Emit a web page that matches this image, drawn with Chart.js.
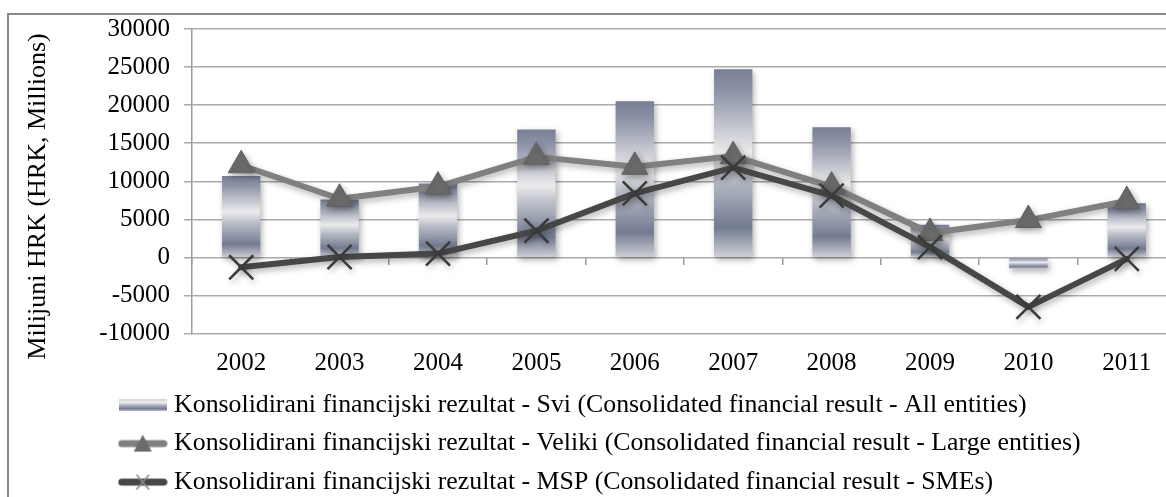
<!DOCTYPE html>
<html>
<head>
<meta charset="utf-8">
<script src="https://cdn.jsdelivr.net/npm/chart.js@4.4.1/dist/chart.umd.min.js"></script>
<style>
  html, body { margin: 0; padding: 0; background: #ffffff; overflow: hidden; width: 1166px; height: 497px; }
  #frame { position: absolute; left: 7px; top: 13px; width: 1400px; height: 700px; border: 2px solid #8a8a8a; box-sizing: border-box; }
  #wrap { position: absolute; left: 0; top: 0; width: 1200px; height: 505px; }
  canvas { position: absolute; left: 0; top: 0; }
</style>
</head>
<body>
<div id="frame"></div>
<div id="wrap"><canvas id="c" width="1200" height="505"></canvas></div>
<script>
// ---- data ----
const categories = ['2002', '2003', '2004', '2005', '2006', '2007', '2008', '2009', '2010', '2011'];
const sviValues = [10700, 7600, 9700, 16800, 20500, 24700, 17100, 4300, -1500, 7100];
const velikiValues = [12100, 7700, 9300, 13200, 11900, 13300, 9300, 3200, 4900, 7400];
const mspValues = [-1300, 50, 500, 3500, 8400, 11800, 8100, 1350, -6500, -200];
const yTickValues = [-10000, -5000, 0, 5000, 10000, 15000, 20000, 25000, 30000];
const seriesLabels = [
  'Konsolidirani financijski rezultat - Svi (Consolidated financial result - All entities)',
  'Konsolidirani financijski rezultat - Veliki (Consolidated financial result - Large entities)',
  'Konsolidirani financijski rezultat - MSP (Consolidated financial result - SMEs)'
];
const yAxisTitle = 'Milijuni HRK (HRK, Millions)';

// ---- styles ----
const FONT_FAMILY = "'Liberation Serif', 'Times New Roman', serif";
const tickFont = { family: FONT_FAMILY, size: 25 };
const legendFont = { family: FONT_FAMILY, size: 25.8 };
const TITLE_SIZE = 26;
const VELIKI_LINE = '#808080';
const VELIKI_MARK = '#6b6b6b';
const MSP_LINE = '#474747';
const MSP_MARK = '#3a3a3a';

function barGradient(c, top, bottom) {
  const g = c.createLinearGradient(0, top, 0, bottom);
  g.addColorStop(0, '#787f95');
  g.addColorStop(0.12, '#8e94a7');
  g.addColorStop(0.44, '#ebebec');
  g.addColorStop(0.58, '#b9bdc8');
  g.addColorStop(0.84, '#737b91');
  g.addColorStop(1, '#cfd1d8');
  return g;
}

// legend symbols
function makeLegendBar() {
  const cv = document.createElement('canvas');
  cv.width = 48; cv.height = 12;
  const c = cv.getContext('2d');
  const g = c.createLinearGradient(0, 0, 0, 12);
  g.addColorStop(0, '#d3d6dd');
  g.addColorStop(0.3, '#eceded');
  g.addColorStop(0.55, '#a4a9b7');
  g.addColorStop(0.8, '#737b91');
  g.addColorStop(1, '#c4c7cf');
  c.fillStyle = g;
  c.fillRect(0, 0, 48, 12);
  return cv;
}
function makeLegendLine(color, marker) {
  const cv = document.createElement('canvas');
  cv.width = 50; cv.height = 24;
  const c = cv.getContext('2d');
  c.strokeStyle = color; c.lineWidth = 7; c.lineCap = 'round';
  c.beginPath(); c.moveTo(4, 12); c.lineTo(46, 12); c.stroke();
  if (marker === 'triangle') {
    c.fillStyle = VELIKI_MARK;
    c.beginPath(); c.moveTo(25, 3); c.lineTo(34, 20); c.lineTo(16, 20); c.closePath(); c.fill();
  } else {
    c.strokeStyle = '#8a8a8a'; c.lineWidth = 1.6;
    c.beginPath(); c.moveTo(19, 5); c.lineTo(31, 19); c.moveTo(31, 5); c.lineTo(19, 19); c.stroke();
  }
  return cv;
}
const legendImgs = [makeLegendBar(), makeLegendLine(VELIKI_LINE, 'triangle'), makeLegendLine(MSP_LINE, 'cross')];

// ---- plugins ----
const softShadow = {
  id: 'softShadow',
  beforeDatasetDraw(chart) {
    const c = chart.ctx;
    c.save();
    c.shadowColor = 'rgba(0,0,0,0.30)';
    c.shadowBlur = 6;
    c.shadowOffsetX = 2;
    c.shadowOffsetY = 3;
  },
  afterDatasetDraw(chart) { chart.ctx.restore(); }
};
const legendShift = {
  id: 'legendShift',
  beforeDraw(chart) { if (chart.legend) chart.legend.left = 111.5; }
};
const yTitle = {
  id: 'yTitle',
  afterDraw(chart) {
    const c = chart.ctx;
    c.save();
    c.translate(38.5, 196.5);
    c.rotate(-Math.PI / 2);
    c.font = TITLE_SIZE + 'px ' + FONT_FAMILY;
    c.fillStyle = '#000000';
    c.textAlign = 'center';
    c.textBaseline = 'middle';
    c.fillText(yAxisTitle, 0, 0);
    c.restore();
  }
};

new Chart(document.getElementById('c'), {
  data: {
    labels: categories,
    datasets: [
      {
        type: 'bar',
        label: seriesLabels[0],
        data: sviValues,
        backgroundColor(ctx) {
          const chart = ctx.chart;
          if (!chart.chartArea || ctx.type !== 'data') return '#9aa0b0';
          const ys = chart.scales.y;
          const p0 = ys.getPixelForValue(0);
          const p1 = ys.getPixelForValue(ctx.raw);
          return barGradient(chart.ctx, Math.min(p0, p1), Math.max(p0, p1));
        },
        borderWidth: 0,
        barPercentage: 0.39,
        categoryPercentage: 1,
        order: 3
      },
      {
        type: 'line',
        label: seriesLabels[1],
        data: velikiValues,
        borderColor: VELIKI_LINE,
        borderWidth: 6,
        borderJoinStyle: 'round',
        borderCapStyle: 'round',
        tension: 0,
        fill: false,
        pointStyle: 'triangle',
        pointRadius: 15,
        pointHoverRadius: 15,
        pointBackgroundColor: VELIKI_MARK,
        pointBorderColor: '#626262',
        pointBorderWidth: 1,
        order: 2
      },
      {
        type: 'line',
        label: seriesLabels[2],
        data: mspValues,
        borderColor: MSP_LINE,
        borderWidth: 6,
        borderJoinStyle: 'round',
        borderCapStyle: 'round',
        tension: 0,
        fill: false,
        pointStyle: 'crossRot',
        pointRadius: 17,
        pointHoverRadius: 17,
        pointBorderColor: MSP_MARK,
        pointBorderWidth: 2.5,
        order: 1
      }
    ]
  },
  options: {
    responsive: false,
    animation: false,
    devicePixelRatio: 1,
    layout: { padding: { left: 0, right: 24, top: 27, bottom: 0 } },
    plugins: {
      tooltip: { enabled: false },
      legend: {
        display: true,
        position: 'bottom',
        align: 'start',
        labels: {
          font: legendFont,
          color: '#000000',
          padding: 12.7,
          usePointStyle: true,
          pointStyleWidth: 37,
          generateLabels: () => seriesLabels.map((t, i) => ({
            text: t,
            pointStyle: legendImgs[i],
            datasetIndex: i,
            hidden: false,
            fontColor: '#000000',
            lineWidth: 0,
            strokeStyle: 'rgba(0,0,0,0)',
            fillStyle: 'rgba(0,0,0,0)'
          }))
        }
      }
    },
    scales: {
      x: {
        type: 'category',
        position: 'bottom',
        grid: { display: false, drawTicks: false },
        border: { display: false },
        ticks: { font: tickFont, color: '#000000', padding: 15, maxRotation: 0, autoSkip: false },
        afterFit(s) { s.height = 46; }
      },
      x2: {
        type: 'category',
        display: true,
        labels: categories,
        position: { y: 0 },
        offset: true,
        grid: { offset: true, drawOnChartArea: false, drawTicks: true, tickLength: 8, color: '#9a9a9a', lineWidth: 1.5 },
        border: { display: false },
        ticks: { display: false }
      },
      y: {
        type: 'linear',
        position: 'left',
        min: yTickValues[0],
        max: yTickValues[yTickValues.length - 1],
        afterBuildTicks(s) { s.ticks = yTickValues.map(v => ({ value: v })); },
        afterFit(s) { s.width = 192; },
        grid: { color: '#ababab', lineWidth: 1.5, drawTicks: true, tickLength: 8 },
        border: { display: true, color: '#9c9c9c', width: 1.5 },
        ticks: { font: tickFont, color: '#000000', padding: 14, callback: v => String(v) }
      }
    }
  },
  plugins: [softShadow, legendShift, yTitle]
});
</script>
</body>
</html>
